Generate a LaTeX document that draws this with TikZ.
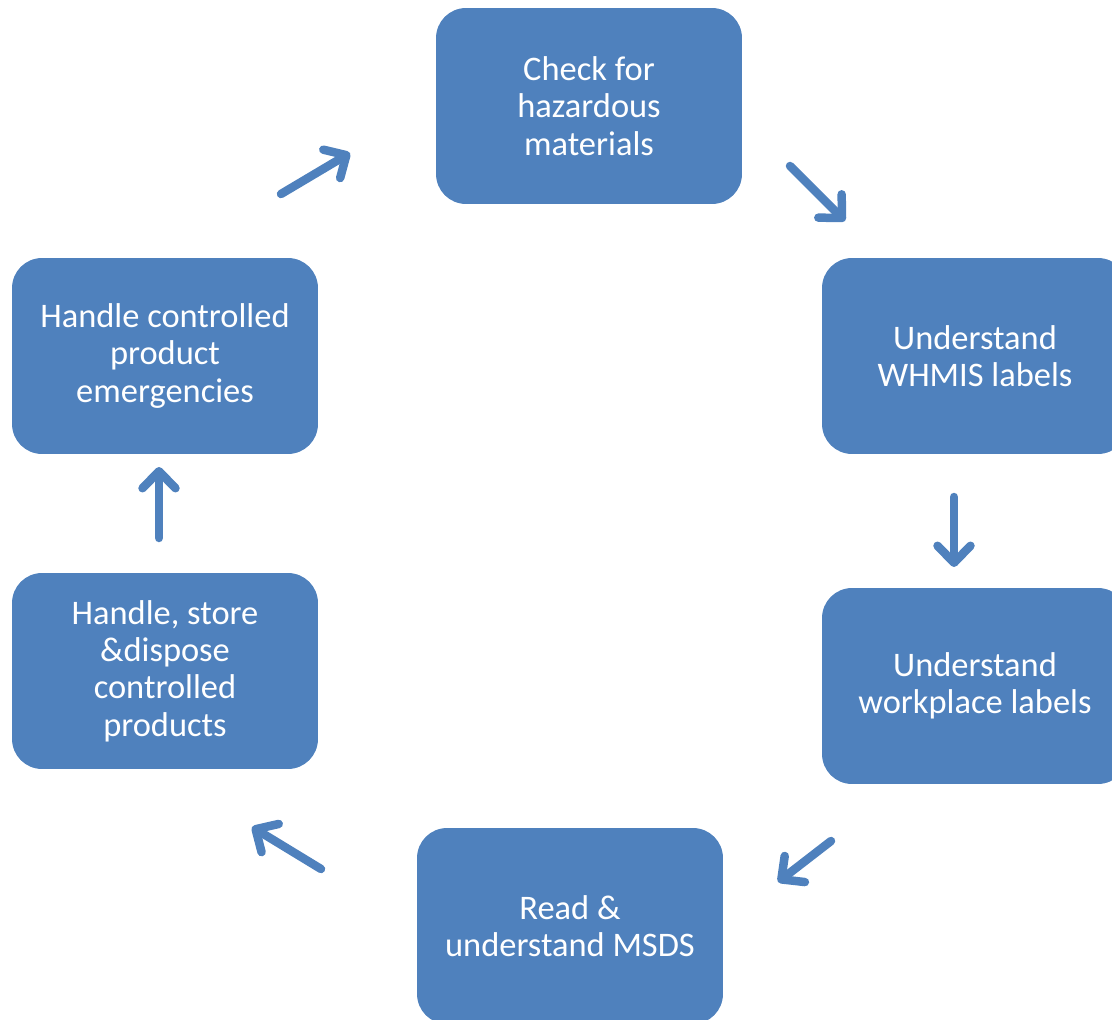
\documentclass[tikz,border=0pt]{standalone}
\usepackage{fontspec}
\setmainfont{Carlito}
\usetikzlibrary{arrows.meta}
\definecolor{stepblue}{HTML}{4F81BD}

\begin{document}
\begin{tikzpicture}[x=0.02cm, y=-0.02cm,
    stepbox/.style = {fill=stepblue, draw=none, rounded corners=0.6cm,
        minimum width=6.12cm, minimum height=3.92cm, align=center,
        text=white, font=\fontsize{19.6}{21.2}\selectfont},
    flow/.style = {draw=stepblue, line width=0.17cm, line cap=round,
        -{Straight Barb[length=0.34cm, width=0.66cm, round]}}]
\useasboundingbox (0,0) rectangle (1112,1020);
\node[stepbox] (check)   at (589,106) {Check for\\hazardous\\materials};
\node[stepbox] (whmis)   at (975,356) {Understand\\WHMIS labels};
\node[stepbox] (work)    at (975,686) {Understand\\workplace labels};
\node[stepbox] (msds)    at (570,926) {Read \&\\understand MSDS};
\node[stepbox] (store)   at (165,671) {Handle, store\\\&dispose\\controlled\\products};
\node[stepbox] (emerg)   at (165,356) {Handle controlled\\product\\emergencies};
% arrow ends
\coordinate (a1s) at (281,194); \coordinate (a1e) at (350,153);
\coordinate (a2s) at (790,166); \coordinate (a2e) at (845,221);
\coordinate (a3s) at (954,497); \coordinate (a3e) at (954,567);
\coordinate (a4s) at (831,841); \coordinate (a4e) at (778,882);
\coordinate (a5s) at (321,869); \coordinate (a5e) at (252,827);
\coordinate (a6s) at (159,538); \coordinate (a6e) at (159,467);
\draw[flow] (a1s) -- (a1e);
\draw[flow] (a2s) -- (a2e);
\draw[flow] (a3s) -- (a3e);
\draw[flow] (a4s) -- (a4e);
\draw[flow] (a5s) -- (a5e);
\draw[flow] (a6s) -- (a6e);
\end{tikzpicture}
\end{document}
